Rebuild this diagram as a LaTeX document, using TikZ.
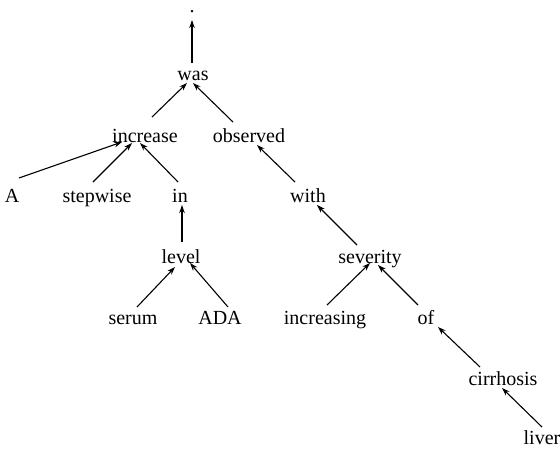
\documentclass[tikz,border=0pt]{standalone}
\usepackage{fontspec}
\setmainfont{Liberation Serif}
\usetikzlibrary{arrows.meta}
\begin{document}
\begin{tikzpicture}[x=1pt,y=-1pt,
  word/.style={inner sep=0pt,anchor=base,font=\fontsize{20}{24}\selectfont},
  dep/.style={line width=1.1pt,-{Stealth[length=8pt,width=5.5pt]}}]
\useasboundingbox (0,0) rectangle (560,450);
\node[word] (dot) at (192,12) {.};
\node[word] (was) at (193,80) {was};
\node[word] (increase) at (145,142) {increase};
\node[word] (observed) at (249,142) {observed};
\node[word] (A) at (12,202) {A};
\node[word] (stepwise) at (97,202) {stepwise};
\node[word] (in) at (180,202) {in};
\node[word] (with) at (308,202) {with};
\node[word] (level) at (181,263) {level};
\node[word] (severity) at (370,263) {severity};
\node[word] (serum) at (133,324) {serum};
\node[word] (ADA) at (220,324) {ADA};
\node[word] (increasing) at (325,324) {increasing};
\node[word] (of) at (426,324) {of};
\node[word] (cirrhosis) at (503,385) {cirrhosis};
\node[word] (liver) at (542,444) {liver};

\draw[dep] ([shift={(-1,-17)}]was.base) -- ([shift={(0,8)}]dot.base);
\draw[dep] ([shift={(7,-25)}]increase.base) -- ([shift={(-6,3)}]was.base);
\draw[dep] ([shift={(-16,-20)}]observed.base) -- ([shift={(0,3)}]was.base);
\draw[dep] ([shift={(7,-24)}]A.base) -- ([shift={(-23,0)}]increase.base);
\draw[dep] ([shift={(-4,-20)}]stepwise.base) -- ([shift={(-13,1)}]increase.base);
\draw[dep] ([shift={(-2,-20)}]in.base) -- ([shift={(-5,1)}]increase.base);
\draw[dep] ([shift={(1,-21)}]level.base) -- ([shift={(2,3)}]in.base);
\draw[dep] ([shift={(4,-17)}]serum.base) -- ([shift={(-6,4)}]level.base);
\draw[dep] ([shift={(8,-17)}]ADA.base) -- ([shift={(9,0)}]level.base);
\draw[dep] ([shift={(-13,-20)}]with.base) -- ([shift={(8,3)}]observed.base);
\draw[dep] ([shift={(-13,-18)}]severity.base) -- ([shift={(9,3)}]with.base);
\draw[dep] ([shift={(2,-19)}]increasing.base) -- ([shift={(0,0)}]severity.base);
\draw[dep] ([shift={(-8,-19)}]of.base) -- ([shift={(8,2)}]severity.base);
\draw[dep] ([shift={(-23,-18)}]cirrhosis.base) -- ([shift={(12,3)}]of.base);
\draw[dep] ([shift={(0,-17)}]liver.base) -- ([shift={(-1,3)}]cirrhosis.base);
\end{tikzpicture}
\end{document}
